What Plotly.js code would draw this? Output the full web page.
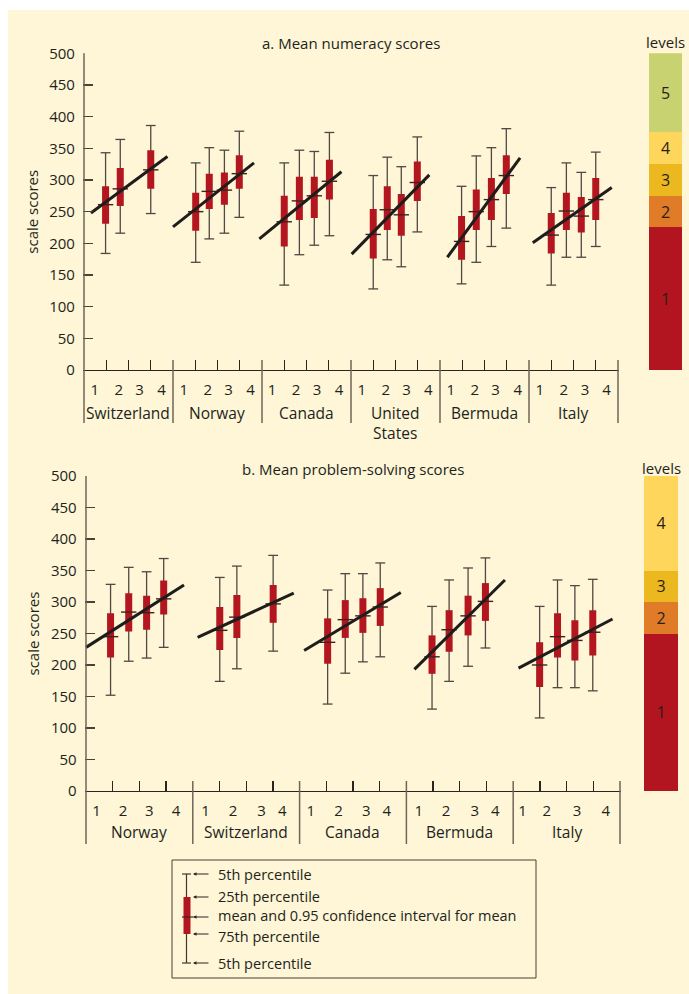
<!DOCTYPE html>
<html><head><meta charset="utf-8">
<script src="https://cdn.plot.ly/plotly-3.0.1.min.js"></script>
<style>html,body{margin:0;padding:0;background:#fff}#chart{width:689px;height:994px}</style>
</head><body><div id="chart"></div>
<script>
// ---------- DATA: a. numeracy ----------
const numCountries = ['Switzerland','Norway','Canada','United<br>States','Bermuda','Italy'];
const numGroup = [0,0,0, 1,1,1,1, 2,2,2,2, 3,3,3,3, 4,4,4,4, 5,5,5,5];
const numPos  = [0.97,1.63,3.0, 1.02,1.63,2.31,2.98, 1.0,1.68,2.35,3.03, 1.0,1.63,2.26,2.98, 0.97,1.63,2.31,2.98, 1.0,1.68,2.35,3.0];
const numP95  = [343,364,386, 327,351,347,377, 327,347,345,375, 307,336,321,368, 290,338,351,381, 288,327,312,344];
const numP75  = [290,319,347, 280,310,312,339, 275,305,305,332, 254,290,278,329, 243,285,303,339, 248,280,273,303];
const numMean = [261,286,316, 250,282,284,310, 234,267,275,298, 214,253,245,296, 203,250,269,307, 213,251,243,269];
const numP25  = [231,259,286, 220,254,261,286, 195,237,240,269, 176,221,212,267, 174,221,237,278, 184,221,217,237];
const numP5   = [184,216,247, 170,207,216,241, 134,182,197,212, 128,174,163,218, 136,170,195,224, 134,178,178,195];
const numLineX0 = [0.31,0.0,-0.12,0.03,0.33,0.17];
const numLineY0 = [248,226,207,183,178,201];
const numLineX1 = [3.75,3.64,3.57,3.52,3.6,3.72];
const numLineY1 = [337,327,313,308,335,288];
const numTickPos = [[0.48,1.56,2.5,3.48],[0.48,1.56,2.5,3.48],[0.45,1.53,2.47,3.46],[0.48,1.56,2.5,3.47],[0.49,1.56,2.5,3.49],[0.49,1.56,2.52,3.49]];
const numLevels = ['1','2','3','4','5'];
const numLevelCuts = [0,225,275,325,375,500];

// ---------- DATA: b. problem solving ----------
const psCountries = ['Norway','Switzerland','Canada','Bermuda','Italy'];
const psGroup = [0,0,0,0, 1,1,1, 2,2,2,2, 3,3,3,3, 4,4,4,4];
const psPos  = [0.92,1.6,2.27,2.91, 1.01,1.65,3.01, 1.05,1.71,2.37,3.02, 0.96,1.6,2.31,2.96, 0.99,1.66,2.31,2.98];
const psP95  = [328,355,348,369, 339,357,374, 319,345,345,362, 293,335,354,370, 293,335,326,336];
const psP75  = [282,314,310,334, 292,311,327, 274,303,306,322, 247,287,310,330, 236,282,271,287];
const psMean = [245,284,283,305, 255,276,297, 236,272,278,292, 213,256,278,301, 200,245,239,252];
const psP25  = [212,253,256,280, 224,243,267, 202,243,251,262, 186,221,247,270, 165,212,207,215];
const psP5   = [152,206,211,228, 174,194,222, 138,187,205,213, 130,174,198,227, 116,164,164,159];
const psLineX0 = [0.0,0.18,0.17,0.3,0.2];
const psLineY0 = [228,244,223,193,195];
const psLineX1 = [3.67,3.78,3.79,3.69,3.72];
const psLineY1 = [327,314,315,335,273];
const psTickPos = [[0.39,1.39,2.37,3.37],[0.48,1.51,2.57,3.35],[0.42,1.46,2.5,3.27],[0.46,1.48,2.56,3.33],[0.35,1.26,2.39,3.47]];
const psLevels = ['1','2','3','4'];
const psLevelCuts = [0,250,300,350,500];

const tickLabels = ['1','2','3','4'];
const levelColors = ['#B2151F','#E07B27','#EBB81F','#FFD65C','#C8D270'];
const yTicks = [0,50,100,150,200,250,300,350,400,450,500];
const keyLabels = ['5th percentile','25th percentile','mean and 0.95 confidence interval for mean','75th percentile','5th percentile'];

// ---------- STYLE / LAYOUT ----------
const W = 689, H = 994;
const PX = v => v / W, PY = v => 1 - v / H;
const FONT = 'Open Sans, Noto Sans, sans-serif';
const TXT = '#231f20';
const CREAM = '#FEF6D6';
const BOXRED = '#B3161F';

const traces = [], shapes = [], annotations = [];
const layout = {
  width: W, height: H, margin: {l:0, r:0, t:0, b:0},
  paper_bgcolor: CREAM, plot_bgcolor: 'rgba(0,0,0,0)',
  showlegend: false, bargap: 0, barmode: 'overlay',
  font: {family: FONT, color: TXT, size: 15},
  shapes, annotations
};

function panel(c) {
  const n = c.countries.length;
  const X = c.group.map((g, i) => 4 * g + c.pos[i]);
  const seg = (a, b) => X.flatMap((x, i) => [[x, a[i]], [x, b[i]], [null, null]]);
  const sx = arr => arr.map(p => p[0]), sy = arr => arr.map(p => p[1]);
  const ax = {xaxis: c.xa, yaxis: c.ya, hoverinfo: 'skip', type: 'scatter', cliponaxis: false};
  const w = seg(c.p5, c.p95);
  traces.push(Object.assign({mode: 'lines', x: sx(w), y: sy(w), line: {color: '#4f4843', width: 1.3}}, ax));
  traces.push(Object.assign({mode: 'markers', x: X.concat(X), y: c.p5.concat(c.p95),
    marker: {symbol: 'line-ew', size: 7, line: {color: '#4f4843', width: 1.3}}}, ax));
  const b = seg(c.p25, c.p75);
  traces.push(Object.assign({mode: 'lines', x: sx(b), y: sy(b), line: {color: BOXRED, width: 7}}, ax));
  traces.push(Object.assign({mode: 'markers', x: X, y: c.mean,
    marker: {symbol: 'line-ew', size: 11, line: {color: '#3b2420', width: 1.4}}}, ax));
  const rx = [], ry = [];
  for (let g = 0; g < n; g++) {
    rx.push(4 * g + c.lx0[g], 4 * g + c.lx1[g], null);
    ry.push(c.ly0[g], c.ly1[g], null);
  }
  traces.push(Object.assign({mode: 'lines', x: rx, y: ry, line: {color: '#1f1d1c', width: 3}}, ax));

  // levels bar
  const cuts = c.cuts;
  traces.push({type: 'bar', xaxis: c.lxa, yaxis: c.ya, hoverinfo: 'skip',
    x: c.levels.map(() => 0), base: cuts.slice(0, -1), y: cuts.slice(1).map((v, i) => v - cuts[i]),
    width: 1, marker: {color: levelColors.slice(0, c.levels.length), line: {width: 0}},
    text: c.levels, textposition: 'inside', insidetextanchor: 'middle', constraintext: 'none',
    textangle: 0, textfont: {family: FONT, size: 16, color: '#2a1f18'}});

  // axes
  const pad = 0.05, unit = (c.xPix[1] - c.xPix[0]) / (4 * n);
  const tv = [], tt = [], mv = [];
  for (let g = 0; g < n; g++) {
    c.tickPos[g].forEach((p, k) => { tv.push(4 * g + p); tt.push(tickLabels[k]); });
    mv.push(4 * g + 1, 4 * g + 2, 4 * g + 3);
  }
  const xk = c.xa.replace('x', 'xaxis'), yk = c.ya.replace('y', 'yaxis');
  layout[xk] = {domain: [PX(c.xPix[0] - pad * unit), PX(c.xPix[1] + pad * unit)], range: [-pad, 4 * n + pad],
    anchor: c.ya, showline: true, linecolor: '#2b2522', linewidth: 1.3, showgrid: false, zeroline: false,
    tickmode: 'array', tickvals: tv, ticktext: tt, ticks: '', tickfont: {size: 15, color: TXT},
    ticklabelstandoff: c.tickStand, fixedrange: true,
    minor: {tickmode: 'array', tickvals: mv, ticks: 'inside', ticklen: 10, tickwidth: 1.3, tickcolor: '#2b2522', showgrid: false}};
  layout[yk] = {domain: [PY(c.yPix[1]), PY(c.yPix[0])], range: [0, 500], anchor: c.xa,
    tickmode: 'array', tickvals: yTicks, ticks: 'inside', ticklen: 10, tickwidth: 1.3, tickcolor: '#4a4038',
    showline: false, showgrid: false, zeroline: false, tickfont: {size: 15, color: TXT},
    ticklabelstandoff: 7, fixedrange: true};
  layout[c.lxa.replace('x', 'xaxis')] = {domain: [PX(c.lvPix[0]), PX(c.lvPix[1])], range: [-0.5, 0.5],
    visible: false, anchor: c.ya, fixedrange: true};

  // separators
  for (let g = 0; g <= n; g++) {
    shapes.push({type: 'line', xref: c.xa, yref: 'paper', x0: 4 * g, x1: 4 * g,
      y0: PY(g === 0 ? c.yPix[0] : c.yPix[1] - 10), y1: PY(c.yPix[1] + 53),
      line: {color: '#6f655a', width: 1.5}});
  }
  // country names
  c.countries.forEach((name, g) => annotations.push({xref: c.xa, yref: 'paper', x: 4 * g + 2, y: PY(c.nameTop),
    xanchor: 'center', yanchor: 'top', text: name, showarrow: false, font: {size: 15.5, color: TXT}}));
  // titles
  annotations.push({xref: 'paper', yref: 'paper', x: PX((c.xPix[0] + c.xPix[1]) / 2), y: PY(c.titleY),
    xanchor: 'center', yanchor: 'middle', text: c.title, showarrow: false, font: {size: 15, color: TXT}});
  annotations.push({xref: 'paper', yref: 'paper', x: PX((c.lvPix[0] + c.lvPix[1]) / 2), y: PY(c.titleY - 1),
    xanchor: 'center', yanchor: 'middle', text: 'levels', showarrow: false, font: {size: 15, color: TXT}});
  annotations.push({xref: 'paper', yref: 'paper', x: PX(32), y: PY((c.yPix[0] + c.yPix[1]) / 2),
    xanchor: 'center', yanchor: 'middle', text: 'scale scores', textangle: -90, showarrow: false, font: {size: 15, color: TXT}});
}

panel({countries: numCountries, group: numGroup, pos: numPos, p5: numP5, p25: numP25, mean: numMean, p75: numP75, p95: numP95,
  lx0: numLineX0, ly0: numLineY0, lx1: numLineX1, ly1: numLineY1, tickPos: numTickPos, levels: numLevels, cuts: numLevelCuts,
  xa: 'x', ya: 'y', lxa: 'x2', xPix: [84, 618], yPix: [53.3, 370], lvPix: [649, 682], nameTop: 400, titleY: 43,
  title: 'a. Mean numeracy scores', tickStand: 6});
panel({countries: psCountries, group: psGroup, pos: psPos, p5: psP5, p25: psP25, mean: psMean, p75: psP75, p95: psP95,
  lx0: psLineX0, ly0: psLineY0, lx1: psLineX1, ly1: psLineY1, tickPos: psTickPos, levels: psLevels, cuts: psLevelCuts,
  xa: 'x3', ya: 'y3', lxa: 'x4', xPix: [86, 620], yPix: [476, 791], lvPix: [644, 678], nameTop: 819, titleY: 469,
  title: 'b. Mean problem-solving scores', tickStand: 6});

// white outer margin (top & left)
shapes.push({type: 'rect', xref: 'paper', yref: 'paper', x0: 0, x1: 1, y0: PY(10), y1: 1, fillcolor: '#ffffff', line: {width: 0}, layer: 'below'});
shapes.push({type: 'rect', xref: 'paper', yref: 'paper', x0: 0, x1: PX(8), y0: 0, y1: 1, fillcolor: '#ffffff', line: {width: 0}, layer: 'below'});

// ---------- key box ----------
const keyArrowY = [874, 897, 917, 934, 963];
const keyTextY = [874.5, 896.5, 915, 936, 963];
shapes.push({type: 'rect', xref: 'paper', yref: 'paper', x0: PX(172), x1: PX(536), y0: PY(978), y1: PY(860), line: {color: '#4a4038', width: 1}});
shapes.push({type: 'line', xref: 'paper', yref: 'paper', x0: PX(186.5), x1: PX(186.5), y0: PY(874), y1: PY(963), line: {color: '#3d3631', width: 1.2}});
shapes.push({type: 'line', xref: 'paper', yref: 'paper', x0: PX(182), x1: PX(191), y0: PY(874), y1: PY(874), line: {color: '#3d3631', width: 1.2}});
shapes.push({type: 'line', xref: 'paper', yref: 'paper', x0: PX(182), x1: PX(191), y0: PY(963), y1: PY(963), line: {color: '#3d3631', width: 1.2}});
shapes.push({type: 'rect', xref: 'paper', yref: 'paper', x0: PX(183.5), x1: PX(190.5), y0: PY(934), y1: PY(897), fillcolor: BOXRED, line: {width: 0}});
shapes.push({type: 'line', xref: 'paper', yref: 'paper', x0: PX(182), x1: PX(193.5), y0: PY(917), y1: PY(917), line: {color: '#3b2420', width: 1.2}});
keyLabels.forEach((t, i) => {
  annotations.push({xref: 'paper', yref: 'paper', x: PX(217), y: PY(keyTextY[i]), xanchor: 'left', yanchor: 'middle', text: t, showarrow: false,
    font: {size: 14.5, color: TXT}, borderpad: 0});
  annotations.push({xref: 'paper', yref: 'paper', x: PX(193), y: PY(keyArrowY[i]), text: '', showarrow: true, axref: 'pixel', ayref: 'pixel', ax: 17, ay: 0,
    arrowhead: 2, arrowsize: 0.7, arrowwidth: 1, arrowcolor: '#2b2522', standoff: 0, startstandoff: 0});
});

Plotly.newPlot('chart', traces, layout, {displayModeBar: false, staticPlot: true});
</script></body></html>
